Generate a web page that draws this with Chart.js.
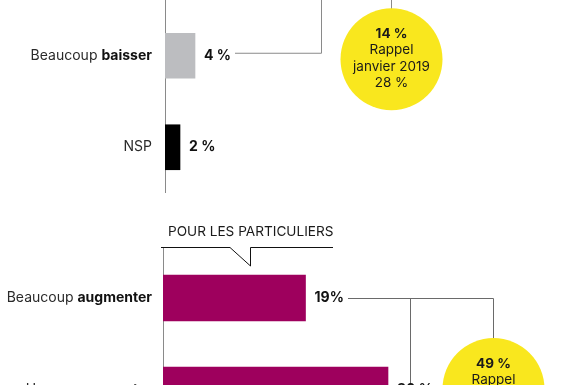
<!DOCTYPE html>
<html>
<head>
<meta charset="utf-8">
<script src="https://cdn.jsdelivr.net/npm/chart.js@4.4.1/dist/chart.umd.min.js"></script>
<style>
html, body { margin: 0; padding: 0; background: #fff; width: 580px; height: 385px; overflow: hidden; }
.wrap { position: absolute; left: 0; width: 580px; }
#wrapTop { top: 0; height: 200px; }
#wrapBottom { top: 200px; height: 250px; }
</style>
</head>
<body>
<div class="wrap" id="wrapTop"><canvas id="topChart" width="580" height="200"></canvas></div>
<div class="wrap" id="wrapBottom"><canvas id="bottomChart" width="580" height="250"></canvas></div>
<script>
// ================================
// Data
// ================================
const topCategories = ['Beaucoup baisser', 'NSP'];
const topBoldWords = ['baisser', ''];
const topValues = [4, 2];
const topValueLabels = ['4 %', '2 %'];
const topColors = ['#bcbdc0', '#000000'];
const topBubble = ['14 %', 'Rappel', 'janvier 2019', '28 %'];

const bottomTitle = 'POUR LES PARTICULIERS';
const bottomCategories = ['Beaucoup augmenter', 'Un peu augmenter'];
const bottomBoldWords = ['augmenter', 'augmenter'];
const bottomValues = [19, 30];
const bottomValueLabels = ['19%', '30 %'];
const bottomColors = ['#9e005d', '#9e005d'];
const bottomBubble = ['49 %', 'Rappel', 'janvier 2019'];

const FONT = 'Inter, "Noto Sans", sans-serif';
const AXIS_MAX = 54;
const LABEL_RIGHT = 152;

// ================================
// Shared drawing helpers
// ================================
function drawCategoryLabel(ctx, text, bold, right, y) {
    const plain = bold ? text.slice(0, text.length - bold.length) : text;
    ctx.textBaseline = 'middle';
    ctx.textAlign = 'left';
    ctx.font = '700 14px ' + FONT;
    const wBold = bold ? ctx.measureText(bold).width : 0;
    ctx.font = '400 14px ' + FONT;
    const wPlain = ctx.measureText(plain).width;
    let x = right - wBold - wPlain;
    ctx.fillStyle = '#2a2a2a';
    ctx.fillText(plain, x, y);
    if (bold) {
        ctx.font = '700 14px ' + FONT;
        ctx.fillStyle = '#111';
        ctx.fillText(bold, x + wPlain, y);
    }
}

function drawBubble(ctx, cx, cy, lines) {
    ctx.fillStyle = '#f9e71e';
    ctx.beginPath();
    ctx.arc(cx, cy, 51, 0, Math.PI * 2);
    ctx.fill();
    ctx.fillStyle = '#1a1a1a';
    ctx.textAlign = 'center';
    ctx.textBaseline = 'middle';
    lines.forEach((line, i) => {
        ctx.font = (i === 0 ? '700 ' : '400 ') + '13.5px ' + FONT;
        ctx.fillText(line, cx, cy - 25.5 + i * 16.5);
    });
}

function line(ctx, pts) {
    ctx.beginPath();
    ctx.moveTo(pts[0][0], pts[0][1]);
    for (let i = 1; i < pts.length; i++) ctx.lineTo(pts[i][0], pts[i][1]);
    ctx.stroke();
}

function labelsPlugin(categories, boldWords, valueLabels) {
    return {
        id: 'labels',
        afterDatasetsDraw(chart) {
            const ctx = chart.ctx;
            const x = chart.scales.x, y = chart.scales.y;
            const values = chart.data.datasets[0].data;
            ctx.save();
            categories.forEach((cat, i) => {
                const py = y.getPixelForValue(i);
                drawCategoryLabel(ctx, cat, boldWords[i], LABEL_RIGHT, py);
                ctx.font = '700 14px ' + FONT;
                ctx.fillStyle = '#111';
                ctx.textAlign = 'left';
                ctx.fillText(valueLabels[i], x.getPixelForValue(values[i]) + 9, py);
            });
            ctx.restore();
        }
    };
}

function baseOptions(padding) {
    return {
        indexAxis: 'y',
        responsive: false,
        animation: false,
        devicePixelRatio: 1,
        layout: { padding: padding },
        plugins: { legend: { display: false }, tooltip: { enabled: false } },
        scales: {
            x: { display: false, min: 0, max: AXIS_MAX },
            y: { display: false }
        }
    };
}

// ================================
// Top chart
// ================================
new Chart(document.getElementById('topChart'), {
    type: 'bar',
    data: {
        labels: topCategories,
        datasets: [{ data: topValues, backgroundColor: topColors, barThickness: 45 }]
    },
    options: baseOptions({ left: 165, right: 10, top: 10, bottom: 7 }),
    plugins: [
        {
            id: 'topDecor',
            beforeDatasetsDraw(chart) {
                const ctx = chart.ctx;
                const x = chart.scales.x, y = chart.scales.y;
                const y0 = y.getPixelForValue(0);
                ctx.save();
                ctx.strokeStyle = '#8a8a8a';
                ctx.lineWidth = 1;
                line(ctx, [[x.left + 0.5, 0], [x.left + 0.5, chart.chartArea.bottom]]);
                line(ctx, [[x.left + 70, y0 - 2.5], [x.left + 156.5, y0 - 2.5], [x.left + 156.5, 0]]);
                line(ctx, [[x.left + 226.5, 0], [x.left + 226.5, 10]]);
                drawBubble(ctx, x.left + 226.5, y0 + 3.5, topBubble);
                ctx.restore();
            }
        },
        labelsPlugin(topCategories, topBoldWords, topValueLabels)
    ]
});

// ================================
// Bottom chart
// ================================
new Chart(document.getElementById('bottomChart'), {
    type: 'bar',
    data: {
        labels: bottomCategories,
        datasets: [{ data: bottomValues, backgroundColor: bottomColors, barThickness: 46 }]
    },
    options: baseOptions({ left: 163, right: 12, top: 52, bottom: 14 }),
    plugins: [
        {
            id: 'bottomDecor',
            beforeDatasetsDraw(chart) {
                const ctx = chart.ctx;
                const x = chart.scales.x, y = chart.scales.y;
                const y0 = y.getPixelForValue(0);
                const top = chart.chartArea.top;
                ctx.save();
                // axis
                ctx.strokeStyle = '#8a8a8a';
                ctx.lineWidth = 1;
                line(ctx, [[x.left + 0.5, top - 5], [x.left + 0.5, chart.height]]);
                // title and bracket
                ctx.fillStyle = '#1a1a1a';
                ctx.font = '400 13.6px ' + FONT;
                ctx.textAlign = 'left';
                ctx.textBaseline = 'middle';
                ctx.fillText(bottomTitle, x.left + 5, top - 20);
                ctx.strokeStyle = '#111';
                line(ctx, [[x.left - 2, top - 4.5], [x.left + 67, top - 4.5], [x.left + 87.5, top + 14], [x.left + 87.5, top - 4.5], [x.left + 170, top - 4.5]]);
                // connectors to bubble
                ctx.strokeStyle = '#6a6a6a';
                line(ctx, [[x.left + 185, y0 + 0.5], [x.left + 330.5, y0 + 0.5], [x.left + 330.5, y0 + 42]]);
                line(ctx, [[x.left + 247.5, y0 + 0.5], [x.left + 247.5, chart.height]]);
                drawBubble(ctx, x.left + 330.5, y0 + 91, bottomBubble);
                ctx.restore();
            }
        },
        labelsPlugin(bottomCategories, bottomBoldWords, bottomValueLabels)
    ]
});
</script>
</body>
</html>
